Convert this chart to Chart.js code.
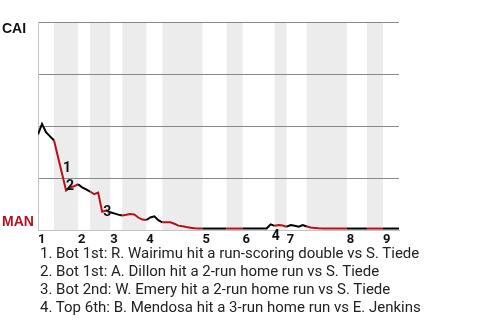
<!DOCTYPE html>
<html>
<head>
<meta charset="utf-8">
<script src="https://cdn.jsdelivr.net/npm/chart.js@4"></script>
<style>
  html, body { margin: 0; padding: 0; background: #fff; }
  #wrap { position: relative; width: 480px; height: 320px; }
  #notes {
    position: absolute; left: 40px; top: 244px;
    font: 15px Roboto, sans-serif; line-height: 18px; color: #222;
    white-space: nowrap;
  }
</style>
</head>
<body>
<div id="wrap">
  <canvas id="chart" width="480" height="320"></canvas>
  <div id="notes"></div>
</div>
<script>
// CAI win probability after each plate appearance (0 = MAN wins, 1 = CAI wins)
const winProb = [
  0.46, 0.51, 0.47, 0.45, 0.43, 0.35, 0.27, 0.19, 0.205, 0.21,
  0.22, 0.205, 0.195, 0.185, 0.172, 0.18, 0.088, 0.093, 0.085, 0.08,
  0.074, 0.07, 0.073, 0.077, 0.075, 0.06, 0.05, 0.048, 0.06, 0.066,
  0.047, 0.037, 0.037, 0.037, 0.03, 0.021, 0.018, 0.014, 0.011, 0.008,
  0.007, 0.007, 0.007, 0.007, 0.007, 0.007, 0.007, 0.007, 0.007, 0.007,
  0.007, 0.007, 0.007, 0.007, 0.007, 0.007, 0.007, 0.007, 0.027, 0.02,
  0.024, 0.022, 0.016, 0.024, 0.02, 0.016, 0.024, 0.017, 0.012, 0.01,
  0.008, 0.007, 0.007, 0.007, 0.007, 0.007, 0.007, 0.007, 0.007, 0.007,
  0.007, 0.007, 0.007, 0.007, 0.007, 0.007, 0.007, 0.007, 0.007, 0.007,
  0.007
];

const inningLabels = ["1", "2", "3", "4", "5", "6", "7", "8", "9"];
const inningStarts = [0, 10, 18, 27, 41, 51, 62, 77, 86];
const bottomHalves = [[4, 10], [13, 18], [21, 27], [31, 41], [47, 51], [59, 62], [67, 77], [82, 86]];
const lastPlay = 90;

const awayTeam = "CAI";
const homeTeam = "MAN";

const keyPlays = [6, 7, 16, 58];
const playNotes = [
  "1. Bot 1st: R. Wairimu hit a run-scoring double vs S. Tiede",
  "2. Bot 1st: A. Dillon hit a 2-run home run vs S. Tiede",
  "3. Bot 2nd: W. Emery hit a 2-run home run vs S. Tiede",
  "4. Top 6th: B. Mendosa hit a 3-run home run vs E. Jenkins"
];

const RED = "#b5121b";

function isBottom(x) {
  return bottomHalves.some(h => x >= h[0] && x < h[1]);
}

// grey bands behind bottom halves
const bandsPlugin = {
  id: "bands",
  beforeDraw(chart) {
    const { ctx, chartArea, scales } = chart;
    ctx.save();
    ctx.fillStyle = "#ececec";
    bottomHalves.forEach(h => {
      const x0 = scales.x.getPixelForValue(h[0]);
      const x1 = scales.x.getPixelForValue(h[1]);
      ctx.fillRect(x0, chartArea.top, x1 - x0, chartArea.bottom - chartArea.top);
    });
    ctx.restore();
  }
};

// team names + key play numbers
const markerOffsets = [[1, -2], [0, 0], [1, 4], [1, 16]];
const labelsPlugin = {
  id: "labels",
  afterDraw(chart) {
    const { ctx, scales } = chart;
    ctx.save();
    ctx.textAlign = "left";
    ctx.textBaseline = "alphabetic";
    ctx.font = "bold 14px 'Liberation Sans', Arial, sans-serif";
    ctx.fillStyle = "#111";
    ctx.fillText(awayTeam, 2, scales.y.getPixelForValue(1) + 11);
    ctx.fillStyle = RED;
    ctx.fillText(homeTeam, 2, scales.y.getPixelForValue(0) - 4);

    ctx.font = "bold 14px Roboto, sans-serif";
    ctx.fillStyle = "#111";
    keyPlays.forEach((p, i) => {
      const px = scales.x.getPixelForValue(p);
      const py = scales.y.getPixelForValue(winProb[p]);
      ctx.fillText(String(i + 1), px + markerOffsets[i][0], py + markerOffsets[i][1]);
    });
    ctx.restore();
  }
};

document.getElementById("notes").innerHTML = playNotes.map(n => `<div>${n}</div>`).join("");

new Chart(document.getElementById("chart"), {
  type: "line",
  data: {
    datasets: [{
      data: winProb.map((v, i) => ({ x: i, y: v })),
      borderColor: "#000",
      borderWidth: 2,
      pointRadius: 0,
      tension: 0,
      segment: {
        borderColor: c => isBottom(c.p0.parsed.x) ? RED : "#000"
      }
    }]
  },
  options: {
    responsive: false,
    animation: false,
    devicePixelRatio: 1,
    layout: { padding: { top: 22, right: 81, left: 0, bottom: 72 } },
    plugins: {
      legend: { display: false },
      tooltip: { enabled: false }
    },
    scales: {
      x: {
        type: "linear",
        min: 0,
        max: lastPlay,
        afterBuildTicks: axis => {
          axis.ticks = inningStarts.map(v => ({ value: v }));
        },
        afterFit: s => { s.height = 18; },
        grid: { display: false, drawTicks: false },
        border: { display: true, color: "#c4c4c4", width: 1 },
        ticks: {
          autoSkip: false,
          maxRotation: 0,
          align: "start",
          padding: 2,
          color: "#111",
          font: { family: "Roboto", weight: "bold", size: 13 },
          callback: v => inningLabels[inningStarts.indexOf(v)]
        }
      },
      y: {
        min: 0,
        max: 1,
        afterFit: s => { s.width = 38; },
        ticks: { stepSize: 0.25, display: false },
        grid: {
          drawTicks: false,
          color: c => c.tick.value === 0 ? "rgba(0,0,0,0)" : "#888"
        },
        border: { display: true, color: "#c4c4c4", width: 1 }
      }
    }
  },
  plugins: [bandsPlugin, labelsPlugin]
});
</script>
</body>
</html>
